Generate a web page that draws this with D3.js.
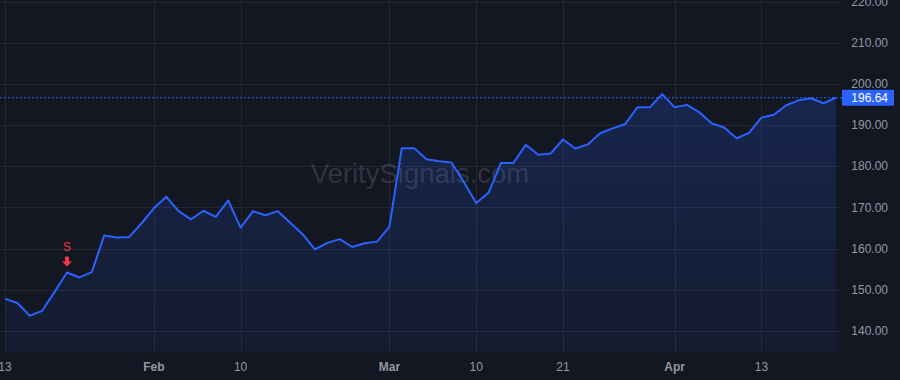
<!DOCTYPE html>
<html lang="en">
<head>
    <meta charset="UTF-8">
    <title>Price chart</title>
    <script src="https://d3js.org/d3.v7.min.js"></script>
    <style>
        html, body { margin: 0; padding: 0; background: #131722; }
        svg { display: block; }
        .tick-label { font: 12px "Liberation Sans", Arial, sans-serif; fill: #9598a1; }
        .tick-label.bold { font-weight: bold; }
    </style>
</head>
<body>
    <svg width="900" height="380"></svg>
    <script>
        // closing prices, one per bar
        const prices = [
            147.8, 146.8, 143.7, 144.9, 149.5, 154.2, 153.0, 154.3, 163.2, 162.7,
            162.8, 166.1, 169.8, 172.6, 169.1, 167.1, 169.2, 167.7, 171.7, 165.1,
            169.1, 168.1, 169.1, 166.3, 163.5, 159.8, 161.4, 162.3, 160.4, 161.3,
            161.7, 165.3, 184.4, 184.4, 181.7, 181.2, 180.9, 176.2, 171.1, 173.6,
            180.8, 180.8, 185.2, 182.8, 183.1, 186.5, 184.3, 185.3, 188.0, 189.2,
            190.2, 194.3, 194.3, 197.5, 194.3, 194.9, 193.1, 190.4, 189.4, 186.8,
            188.1, 191.8, 192.5, 194.8, 196.0, 196.5, 195.3, 196.64
        ];

        // time axis labels (bar index -> text)
        const timeTickIdx = [0, 12, 19, 31, 38, 45, 54, 61];
        const timeTickText = ["13", "Feb", "10", "Mar", "10", "21", "Apr", "13"];
        const timeTickBold = [false, true, false, true, false, false, true, false];

        const priceTicks = [140, 150, 160, 170, 180, 190, 200, 210, 220];

        // signal marker
        const signalIdx = 5;
        const signalText = "S";

        const lastPrice = 196.64;

        const svg = d3.select("svg");
        const W = 900, H = 380;
        const plotRight = 842, plotBottom = 352;

        const x = d3.scaleLinear().domain([0, prices.length - 1]).range([5, 835.8]);
        const y = d3.scaleLinear().domain([140, 220]).range([331, 1.5]);

        svg.append("rect").attr("width", W).attr("height", H).attr("fill", "#131722");

        const defs = svg.append("defs");
        const grad = defs.append("linearGradient")
            .attr("id", "areaGrad")
            .attr("gradientUnits", "userSpaceOnUse")
            .attr("x1", 0).attr("x2", 0)
            .attr("y1", y(d3.max(prices))).attr("y2", plotBottom);
        grad.append("stop").attr("offset", "0%").attr("stop-color", "#2962ff").attr("stop-opacity", 0.2);
        grad.append("stop").attr("offset", "100%").attr("stop-color", "#2962ff").attr("stop-opacity", 0.06);

        // grid
        const grid = svg.append("g").attr("stroke", "#232733").attr("stroke-width", 1);
        grid.selectAll(".hg").data(priceTicks).join("line")
            .attr("x1", 0).attr("x2", plotRight)
            .attr("y1", d => Math.round(y(d)) + 0.5).attr("y2", d => Math.round(y(d)) + 0.5);
        grid.selectAll(".vg").data(timeTickIdx).join("line")
            .attr("y1", 0).attr("y2", plotBottom)
            .attr("x1", d => Math.round(x(d)) + 0.5).attr("x2", d => Math.round(x(d)) + 0.5);

        // watermark
        svg.append("text")
            .attr("x", 420).attr("y", 183)
            .attr("text-anchor", "middle")
            .attr("font-family", "'Liberation Sans', Arial, sans-serif")
            .attr("font-size", 27.5)
            .attr("fill", "#b2b5be")
            .attr("fill-opacity", 0.2)
            .text("VeritySignals.com");

        // area + line
        const area = d3.area()
            .x((d, i) => x(i))
            .y0(plotBottom)
            .y1(d => y(d));
        svg.append("path").datum(prices)
            .attr("d", area)
            .attr("fill", "url(#areaGrad)");

        const line = d3.line()
            .x((d, i) => x(i))
            .y(d => y(d));
        svg.append("path").datum(prices)
            .attr("d", line)
            .attr("fill", "none")
            .attr("stroke", "#2962ff")
            .attr("stroke-width", 2)
            .attr("stroke-linejoin", "round");

        // last price line
        svg.append("line")
            .attr("x1", 0).attr("x2", plotRight)
            .attr("y1", y(lastPrice)).attr("y2", y(lastPrice))
            .attr("stroke", "#2962ff")
            .attr("stroke-width", 1)
            .attr("stroke-dasharray", "2,2");

        // price axis labels
        svg.append("g").selectAll("text").data(priceTicks).join("text")
            .attr("class", "tick-label")
            .attr("x", 888)
            .attr("y", d => y(d))
            .attr("dy", "0.35em")
            .attr("text-anchor", "end")
            .text(d => d.toFixed(2));

        // last price tag
        const tagY = y(lastPrice);
        svg.append("rect")
            .attr("x", 842).attr("y", tagY - 8)
            .attr("width", 52).attr("height", 16)
            .attr("rx", 1)
            .attr("fill", "#2962ff");
        svg.append("text")
            .attr("class", "tick-label")
            .attr("x", 888).attr("y", tagY)
            .attr("dy", "0.35em")
            .attr("text-anchor", "end")
            .style("fill", "#ffffff")
            .text(lastPrice.toFixed(2));

        // time axis labels
        svg.append("g").selectAll("text").data(timeTickIdx).join("text")
            .attr("class", (d, i) => timeTickBold[i] ? "tick-label bold" : "tick-label")
            .attr("x", d => x(d))
            .attr("y", 367)
            .attr("dy", "0.35em")
            .attr("text-anchor", "middle")
            .text((d, i) => timeTickText[i]);

        // signal marker
        const sx = x(signalIdx), sy = y(prices[signalIdx]);
        svg.append("text")
            .attr("x", sx).attr("y", sy - 22)
            .attr("text-anchor", "middle")
            .attr("font-family", "'Liberation Sans', Arial, sans-serif")
            .attr("font-size", 12)
            .attr("fill", "#f23645")
            .text(signalText);
        svg.append("path")
            .attr("d", `M${sx - 2},${sy - 16} h4 v5 h3 l-5,5 l-5,-5 h3 z`)
            .attr("fill", "#f23645");
    </script>
</body>
</html>
